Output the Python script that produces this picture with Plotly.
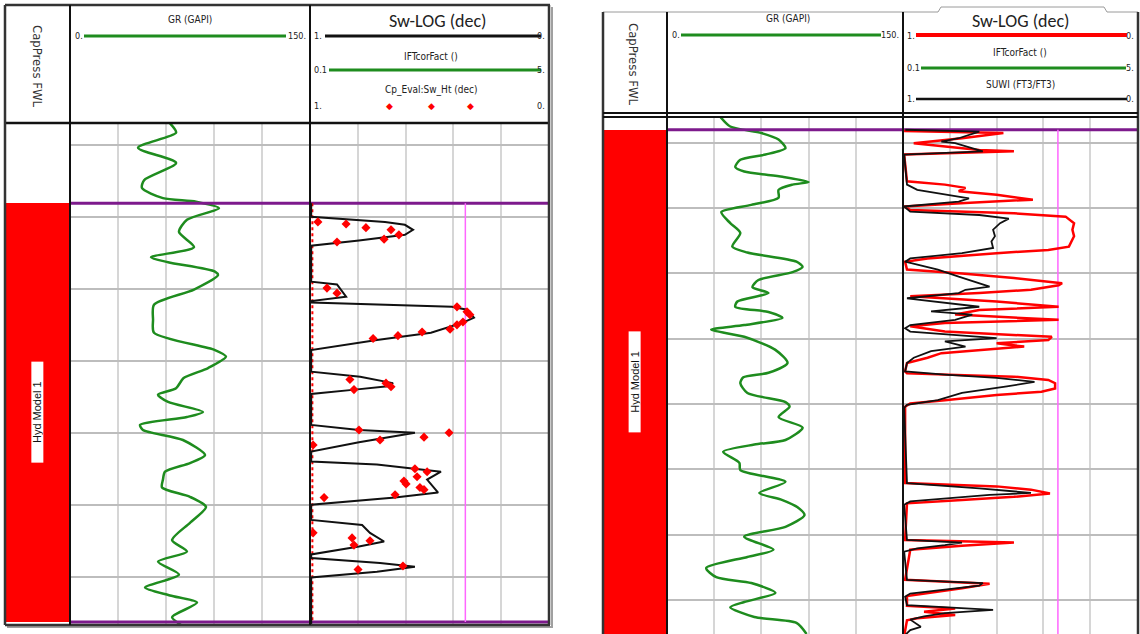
import plotly.graph_objects as go

W, H = 1140, 634

# ---------------- data ----------------
# depth unit: ft (arbitrary datum); horizontal grid every 10 ft
GR_SCALE = [0, 150]
SW_SCALE = [1, 0]

# ---- left panel: Hyd Model 1, Sw-LOG + Cp_Eval:Sw_Ht ----
L_DEPTH_WINDOW = [2566.7, 2497.1]
L_ZONE = [2508.1, 2566.3]          # top / base of "Hyd Model 1"
L_CUTOFF = 0.35

L_GR_DEPTH = [2497.0, 2498.3, 2500.4, 2502.5, 2504.9, 2506.0, 2507.4, 2507.9, 2508.8, 2510.4,
              2512.1, 2514.2, 2515.6, 2516.3, 2517.6, 2518.1, 2520.1, 2522.2, 2524.3, 2526.1,
              2528.5, 2529.4, 2531.0, 2532.4, 2533.8, 2534.7, 2535.7, 2537.1, 2537.8, 2538.9,
              2539.6, 2541.0, 2543.1, 2544.2, 2545.4, 2546.5, 2547.6, 2548.9, 2550.3, 2552.5,
              2554.9, 2556.5, 2557.9, 2559.7, 2561.5, 2562.6, 2563.6, 2565.6, 2566.7]
L_GR = [62.5, 66.3, 42.5, 66.3, 46.3, 45.0, 58.1, 78.8, 93.1, 73.1,
        68.1, 77.5, 50.6, 61.3, 90.6, 92.5, 77.5, 52.5, 51.9, 52.5,
        90.6, 97.5, 86.3, 71.0, 66.3, 55.0, 61.3, 83.1, 73.1, 43.8,
        45.6, 70.6, 84.4, 75.0, 59.4, 58.1, 57.5, 75.0, 85.0, 75.0,
        63.8, 73.1, 55.0, 68.1, 46.9, 62.5, 79.4, 63.8, 69.4]

L_SW_DEPTH = [2508.1, 2510.0, 2510.7, 2511.1, 2511.8, 2512.5, 2513.3, 2514.0,
              2519.0, 2519.4, 2521.1, 2521.5, 2521.7,
              2521.9, 2522.1, 2522.5, 2522.9, 2524.0, 2524.7, 2526.1, 2527.1, 2528.5,
              2531.5, 2532.2, 2533.1, 2533.5, 2534.0, 2534.6,
              2538.9, 2539.6, 2540.0, 2541.3, 2542.6,
              2544.0, 2544.4, 2545.4, 2546.5, 2548.3, 2549.0, 2550.0,
              2552.1, 2552.8, 2553.9, 2555.1, 2555.8, 2556.9,
              2557.4, 2558.1, 2558.6, 2559.3, 2560.1,
              2566.7]
L_SW = [0.995, 0.995, 0.686, 0.603, 0.569, 0.603, 0.795, 0.995,
        0.995, 0.887, 0.849, 0.946, 0.995,
        0.995, 0.795, 0.406, 0.343, 0.314, 0.360, 0.494, 0.720, 0.995,
        0.995, 0.790, 0.653, 0.665, 0.812, 0.995,
        0.995, 0.795, 0.561, 0.795, 0.995,
        0.995, 0.720, 0.452, 0.510, 0.464, 0.644, 0.995,
        0.995, 0.782, 0.749, 0.690, 0.795, 0.995,
        0.995, 0.707, 0.561, 0.720, 0.995,
        0.995]

L_CP_DEPTH = [2510.7, 2511.0, 2511.5, 2511.8, 2512.5, 2513.1, 2513.5,
              2519.9, 2520.6,
              2522.5, 2523.2, 2523.6, 2524.6, 2525.0, 2525.6, 2526.0, 2526.5, 2526.9,
              2532.6, 2533.1, 2533.6, 2534.0,
              2539.6, 2540.0, 2540.6, 2541.0, 2541.7,
              2545.0, 2545.4, 2546.1, 2546.7, 2547.1, 2547.6, 2547.9, 2548.6, 2549.0,
              2553.9, 2554.6, 2555.0, 2555.6,
              2558.5, 2559.0]
L_CP_SW = [0.967, 0.849, 0.766, 0.661, 0.628, 0.690, 0.887,
           0.929, 0.887,
           0.385, 0.343, 0.331, 0.360, 0.385, 0.414, 0.531, 0.632, 0.736,
           0.833, 0.682, 0.661, 0.816,
           0.795, 0.418, 0.523, 0.707, 0.987,
           0.561, 0.510, 0.552, 0.607, 0.598, 0.540, 0.523, 0.644, 0.941,
           0.987, 0.824, 0.749, 0.816,
           0.611, 0.799]
L_CP_WATER = 0.99                  # Cp_Eval points lying on Sw = 1

# ---- right panel: Hyd Model 1, Sw-LOG + SUWI ----
R_DEPTH_WINDOW = [3075.2, 2996.2]
R_ZONE = [2998.0, 3080.0]
R_CUTOFF = 0.338

R_GR_DEPTH = [2996.0, 2997.5, 2998.5, 2999.5, 3000.8, 3001.8, 3002.6, 3003.7, 3004.4, 3005.2,
              3006.0, 3006.4, 3007.2, 3008.4, 3009.5, 3010.6, 3012.3, 3013.8, 3015.9, 3016.8,
              3018.2, 3019.0, 3019.8, 3021.0, 3022.1, 3023.0, 3024.3, 3025.1, 3025.9, 3026.8,
              3027.9, 3028.6, 3029.7, 3031.7, 3033.7, 3035.2, 3035.9, 3036.8, 3038.3, 3039.7,
              3040.4, 3042.0, 3043.6, 3045.5, 3046.2, 3047.3, 3049.0, 3050.1, 3051.9, 3053.6,
              3054.7, 3055.8, 3057.0, 3058.8, 3060.3, 3062.3, 3063.4, 3065.1, 3066.5, 3067.4,
              3068.9, 3070.3, 3071.1, 3072.6, 3073.5, 3075.2]
R_GR = [33.8, 40.2, 60.0, 70.9, 75.3, 62.6, 46.6, 43.4, 49.1, 73.4,
        90.0, 79.8, 70.9, 70.9, 53.6, 34.5, 40.2, 46.6, 41.5, 51.1,
        82.3, 86.2, 79.8, 58.1, 54.3, 64.5, 44.7, 43.4, 64.5, 73.4,
        49.1, 28.1, 49.1, 68.9, 76.6, 64.5, 48.5, 46.6, 51.1, 75.3,
        77.9, 70.9, 86.2, 75.3, 55.5, 35.7, 46.0, 46.6, 75.3, 58.7,
        73.4, 83.0, 87.4, 75.3, 49.1, 67.7, 51.1, 24.9, 31.3, 53.6,
        68.9, 49.1, 40.2, 55.5, 82.3, 88.7]

R_SWLOG_DEPTH = [2998.0, 2998.2, 2998.5, 2999.3, 3000.05, 3000.6, 3001.1, 3001.3, 3001.8,
                 3005.9, 3006.4, 3006.9, 3007.4, 3007.96, 3008.7, 3009.2, 3009.75,
                 3010.3, 3010.8, 3011.3, 3012.3, 3013.3, 3014.3, 3015.9, 3016.4, 3016.9, 3017.7, 3018.2,
                 3019.4, 3020.0, 3020.7, 3021.5, 3021.8, 3022.5, 3023.0, 3023.5,
                 3024.3, 3025.1, 3025.6, 3026.3, 3027.1, 3027.6, 3028.1,
                 3028.9, 3029.7, 3030.2, 3030.7, 3031.2, 3031.7, 3032.2, 3032.9, 3033.7,
                 3035.0, 3035.3, 3035.8, 3036.3, 3036.8, 3037.6, 3038.1, 3038.6, 3039.4, 3039.9, 3040.4,
                 3052.1, 3052.6, 3053.1, 3053.7, 3054.2, 3054.7, 3055.2,
                 3060.8, 3061.2, 3061.7, 3062.3,
                 3066.9, 3067.5, 3068.2, 3068.9, 3069.4,
                 3070.9, 3071.3, 3071.8, 3072.3, 3072.8, 3073.1,
                 3075.5]
R_SWLOG = [0.99, 0.99, 0.571, 0.748, 0.954, 0.821, 0.674, 0.526, 0.995,
           0.983, 0.821, 0.733, 0.762, 0.600, 0.445, 0.733, 0.995,
           0.969, 0.526, 0.305, 0.269, 0.276, 0.269, 0.291, 0.379, 0.600, 0.895, 0.991,
           0.983, 0.748, 0.526, 0.320, 0.335, 0.453, 0.674, 0.969,
           0.600, 0.335, 0.674, 0.777, 0.335, 0.821, 0.969,
           0.821, 0.364, 0.379, 0.600, 0.482, 0.674, 0.836, 0.895, 0.983,
           0.991, 0.983, 0.526, 0.379, 0.350, 0.350, 0.408, 0.600, 0.821, 0.969, 0.991,
           0.991, 0.600, 0.453, 0.372, 0.526, 0.748, 0.983,
           0.991, 0.526, 0.748, 0.969,
           0.991, 0.630, 0.748, 0.895, 0.983,
           0.983, 0.777, 0.910, 0.777, 0.939, 0.983,
           0.995]

R_SUWI_DEPTH = [2998.0, 2998.3, 2999.3, 2999.8, 3000.05, 3000.85, 3001.3, 3001.8,
                3006.4, 3007.2, 3007.96, 3008.5, 3009.0, 3009.75,
                3010.55, 3011.05, 3011.6, 3012.3, 3013.3, 3014.3, 3015.1, 3016.1, 3016.9, 3017.7, 3018.2,
                3018.4, 3019.4, 3020.5, 3021.5, 3022.0, 3022.5, 3023.0, 3023.8,
                3024.5, 3025.1, 3025.8, 3026.3, 3027.1, 3027.9, 3028.4,
                3028.9, 3029.9, 3030.4, 3031.2, 3031.9, 3032.9, 3033.7,
                3035.0, 3035.5, 3036.0, 3036.6, 3037.3, 3038.3, 3039.4, 3040.1, 3040.6,
                3052.1, 3052.9, 3053.4, 3053.6, 3053.9, 3054.4, 3054.9, 3055.4,
                3060.8, 3061.2, 3061.6, 3062.1, 3062.6,
                3066.9, 3067.4, 3067.8, 3068.4, 3069.0, 3069.5,
                3070.8, 3071.5, 3072.0, 3072.5, 3073.0,
                3074.1, 3074.6, 3075.5]
R_SUWI = [0.99, 0.674, 0.762, 0.836, 0.777, 0.704, 0.659, 0.995,
          0.983, 0.939, 0.807, 0.718, 0.762, 0.995,
          0.969, 0.674, 0.548, 0.585, 0.615, 0.607, 0.622, 0.615, 0.748, 0.969, 0.991,
          0.969, 0.851, 0.762, 0.674, 0.630, 0.733, 0.762, 0.983,
          0.821, 0.674, 0.880, 0.704, 0.777, 0.969, 0.991,
          0.969, 0.600, 0.821, 0.733, 0.880, 0.954, 0.983,
          0.991, 0.821, 0.600, 0.438, 0.556, 0.748, 0.851, 0.983, 0.995,
          0.983, 0.674, 0.526, 0.453, 0.630, 0.821, 0.969, 0.995,
          0.983, 0.748, 0.821, 0.939, 0.995,
          0.983, 0.659, 0.674, 0.821, 0.969, 0.991,
          0.983, 0.615, 0.821, 0.910, 0.969,
          0.924, 0.969, 0.995]

ZONE_NAME = "Hyd Model 1"

# ---------------- styling ----------------
GREEN = "#1e8c1e"
RED = "#ff0000"
BLACK = "#111111"
PURPLE = "#7d1a8c"
MAGENTA = "#ff66ff"
NARROW = "Liberation Sans Narrow, Arial Narrow, DejaVu Sans Condensed, Liberation Sans, Arial, sans-serif"
BIG = "Carlito, Open Sans, Liberation Sans, sans-serif"


def fx(p):
    return p / W


def fy(p):
    return 1 - p / H


fig = go.Figure()


def panel(n0, xs, ytop, ybot, window, zone, gr_d, gr_v, cutoff):
    """n0 = index of first axis; xs = pixel x boundaries of the 3 tracks."""
    ax = {}
    ids = [n0, n0 + 1, n0 + 2]
    for k, i in enumerate(ids):
        xname = "xaxis" if i == 1 else f"xaxis{i}"
        yname = "yaxis" if i == 1 else f"yaxis{i}"
        xa = dict(domain=[fx(xs[k]), fx(xs[k + 1])], anchor="y" if i == 1 else f"y{i}",
                  showticklabels=False, ticks="", zeroline=False, showline=False,
                  gridcolor="#d6d6d6", gridwidth=1.5, fixedrange=True)
        ya = dict(domain=[fy(ybot), fy(ytop)], anchor="x" if i == 1 else f"x{i}",
                  range=window, showticklabels=False, ticks="", zeroline=False, showline=False,
                  gridcolor="#bdbdbd", gridwidth=2, fixedrange=True,
                  tick0=round(window[1], -1) + 10 if window[1] % 10 else window[1], dtick=10)
        if k == 0:
            xa.update(range=[-0.5, 0.5], showgrid=False)
            ya.update(showgrid=False)
        elif k == 1:
            xa.update(range=GR_SCALE, tick0=0, dtick=30, showgrid=True)
            ya.update(showgrid=True)
        else:
            xa.update(range=SW_SCALE, tick0=0, dtick=0.2, showgrid=True)
            ya.update(showgrid=True)
        ax[xname] = xa
        ax[yname] = ya
    fig.update_layout(**ax)
    xz, yz = ("x", "y") if n0 == 1 else (f"x{n0}", f"y{n0}")
    xg, yg = f"x{n0 + 1}", f"y{n0 + 1}"
    xs_, ys_ = f"x{n0 + 2}", f"y{n0 + 2}"
    # zone column
    fig.add_trace(go.Bar(x=[0], y=[zone[1] - zone[0]], base=[zone[0]], width=1,
                         marker=dict(color=RED, line=dict(width=0)), xaxis=xz, yaxis=yz,
                         hoverinfo="skip"))
    mid = (zone[0] + min(zone[1], window[0])) / 2
    fig.add_annotation(x=0, y=mid, xref=xz, yref=yz, text=ZONE_NAME, showarrow=False,
                       textangle=-90, bgcolor="white", borderpad=0, width=100, height=11,
                       font=dict(size=11, color="#111", family="Liberation Sans, Arial"))
    # GR
    fig.add_trace(go.Scatter(x=gr_v, y=gr_d, mode="lines", xaxis=xg, yaxis=yg,
                             line=dict(color=GREEN, width=2.5, shape="spline", smoothing=0.7)))
    # zone boundaries (purple) across GR and Sw tracks
    for zd in zone:
        if zd < window[0]:
            fig.add_trace(go.Scatter(x=GR_SCALE, y=[zd, zd], mode="lines", xaxis=xg, yaxis=yg,
                                     line=dict(color=PURPLE, width=3)))
            fig.add_trace(go.Scatter(x=SW_SCALE, y=[zd, zd], mode="lines", xaxis=xs_, yaxis=ys_,
                                     line=dict(color=PURPLE, width=3)))
    # cutoff
    fig.add_trace(go.Scatter(x=[cutoff, cutoff], y=[zone[0], min(zone[1], window[0])],
                             mode="lines", xaxis=xs_, yaxis=ys_,
                             line=dict(color=MAGENTA, width=1.5)))
    return xs_, ys_


# left panel
lxs, lys = panel(1, [5, 70, 310, 549], 124, 625, L_DEPTH_WINDOW, L_ZONE, L_GR_DEPTH, L_GR, L_CUTOFF)
fig.add_trace(go.Scatter(x=[L_CP_WATER, L_CP_WATER], y=L_ZONE, mode="lines", xaxis=lxs, yaxis=lys,
                         line=dict(color=RED, width=2, dash="dot")))
fig.add_trace(go.Scatter(x=L_SW, y=L_SW_DEPTH, mode="lines", xaxis=lxs, yaxis=lys,
                         line=dict(color=BLACK, width=2)))
fig.add_trace(go.Scatter(x=L_CP_SW, y=L_CP_DEPTH, mode="markers", xaxis=lxs, yaxis=lys,
                         marker=dict(symbol="diamond", size=7, color=RED)))

# right panel
rxs, rys = panel(4, [603, 667, 903, 1137], 118, 634, R_DEPTH_WINDOW, R_ZONE, R_GR_DEPTH, R_GR, R_CUTOFF)
fig.add_trace(go.Scatter(x=R_SWLOG, y=R_SWLOG_DEPTH, mode="lines", xaxis=rxs, yaxis=rys,
                         line=dict(color=RED, width=2.5)))
fig.add_trace(go.Scatter(x=R_SUWI, y=R_SUWI_DEPTH, mode="lines", xaxis=rxs, yaxis=rys,
                         line=dict(color=BLACK, width=1.8)))

# ---------------- frames & headers (layout decoration) ----------------
shapes = []


def hl(x0, x1, y, color=BLACK, w=2.5):
    shapes.append(dict(type="line", xref="paper", yref="paper", x0=fx(x0), x1=fx(x1),
                       y0=fy(y), y1=fy(y), line=dict(color=color, width=w)))


def vl(x, y0, y1, color=BLACK, w=2.5):
    shapes.append(dict(type="line", xref="paper", yref="paper", x0=fx(x), x1=fx(x),
                       y0=fy(y0), y1=fy(y1), line=dict(color=color, width=w)))


# left frame
hl(7, 553, 627, "#a0a0a0", 2)
vl(552, 7, 627, "#a0a0a0", 2)
hl(5, 550, 5, "#333", 2.5)
hl(5, 550, 123, BLACK, 2.5)
hl(5, 550, 625, "#333", 2.5)
vl(5, 5, 625, "#333", 2.5)
vl(70, 5, 625, BLACK, 2)
vl(310, 5, 625, BLACK, 2)
vl(549, 5, 625, "#333", 2.5)
# left header legend lines
hl(84, 286, 36, GREEN, 3)
hl(325, 541, 36, BLACK, 3)
hl(329, 541, 70, GREEN, 3)

# right frame
hl(603, 1138, 12, "#9a9a9a", 1)
vl(603, 12, 634, "#333", 2.5)
vl(667, 12, 634, BLACK, 2)
vl(903, 12, 634, BLACK, 2)
vl(1138, 12, 634, "#333", 2.5)
hl(603, 1138, 113, BLACK, 2)
hl(603, 1138, 117, BLACK, 2)
# title box over the Sw track header
shapes.append(dict(type="rect", xref="paper", yref="paper", x0=fx(938), x1=fx(1107),
                   y0=fy(31), y1=fy(7), fillcolor="white", line=dict(width=0)))
shapes.append(dict(type="path", xref="paper", yref="paper",
                   path=f"M {fx(938)},{fy(12)} L {fx(941)},{fy(7)} L {fx(1104)},{fy(7)} L {fx(1107)},{fy(12)}",
                   line=dict(color="#9a9a9a", width=1)))
hl(681, 881, 35, GREEN, 3)
hl(916, 1127, 35, RED, 4)
hl(921, 1126, 68, GREEN, 3)
hl(916, 1127, 99, BLACK, 2.5)

annotations = []


def T(x, y, s, size=10, xa="center", color="#222", angle=0, family=NARROW):
    annotations.append(dict(x=fx(x), y=fy(y), xref="paper", yref="paper", text=s, showarrow=False,
                            xanchor=xa, yanchor="middle", textangle=angle,
                            font=dict(size=size, color=color, family=family)))


# left header texts
T(38, 66, "CapPress FWL", 13, angle=90, color="#333")
T(190, 19, "GR (GAPI)", 10)
T(73, 36, "0.", 9, "left")
T(308, 36, "150.", 9, "right")
T(438, 21, "Sw-LOG (dec)", 18, family=BIG)
T(312, 36, "1.", 9, "left")
T(547, 36, "0.", 9, "right")
T(431, 56, "IFTcorFact ()", 10)
T(312, 70, "0.1", 9, "left")
T(547, 70, "5.", 9, "right")
T(431, 90, "Cp_Eval:Sw_Ht (dec)", 10)
T(312, 106, "1.", 9, "left")
T(547, 106, "0.", 9, "right")
for xd in (389, 431, 470):
    T(xd, 106, "◆", 9, color=RED, family="DejaVu Sans")

# right header texts
T(634, 64, "CapPress FWL", 13, angle=90, color="#333")
T(788, 18, "GR (GAPI)", 10)
T(670, 35, "0.", 9, "left")
T(901, 35, "150.", 9, "right")
T(1021, 21, "Sw-LOG (dec)", 18, family=BIG)
T(905, 36, "1.", 9, "left")
T(1136, 36, "0.", 9, "right")
T(1020, 52, "IFTcorFact ()", 10)
T(905, 68, "0.1", 9, "left")
T(1136, 68, "5.", 9, "right")
T(1020, 84, "SUWI (FT3/FT3)", 10)
T(905, 99, "1.", 9, "left")
T(1136, 99, "0.", 9, "right")

fig.update_layout(width=W, height=H, margin=dict(l=0, r=0, t=0, b=0, pad=0),
                  paper_bgcolor="white", plot_bgcolor="white", showlegend=False,
                  bargap=0, shapes=shapes, annotations=list(fig.layout.annotations) + annotations,
                  font=dict(family=NARROW))

fig.write_html("out.html", config={"displayModeBar": False},
               post_script="document.body.style.margin='0';document.body.style.overflow='hidden';")
